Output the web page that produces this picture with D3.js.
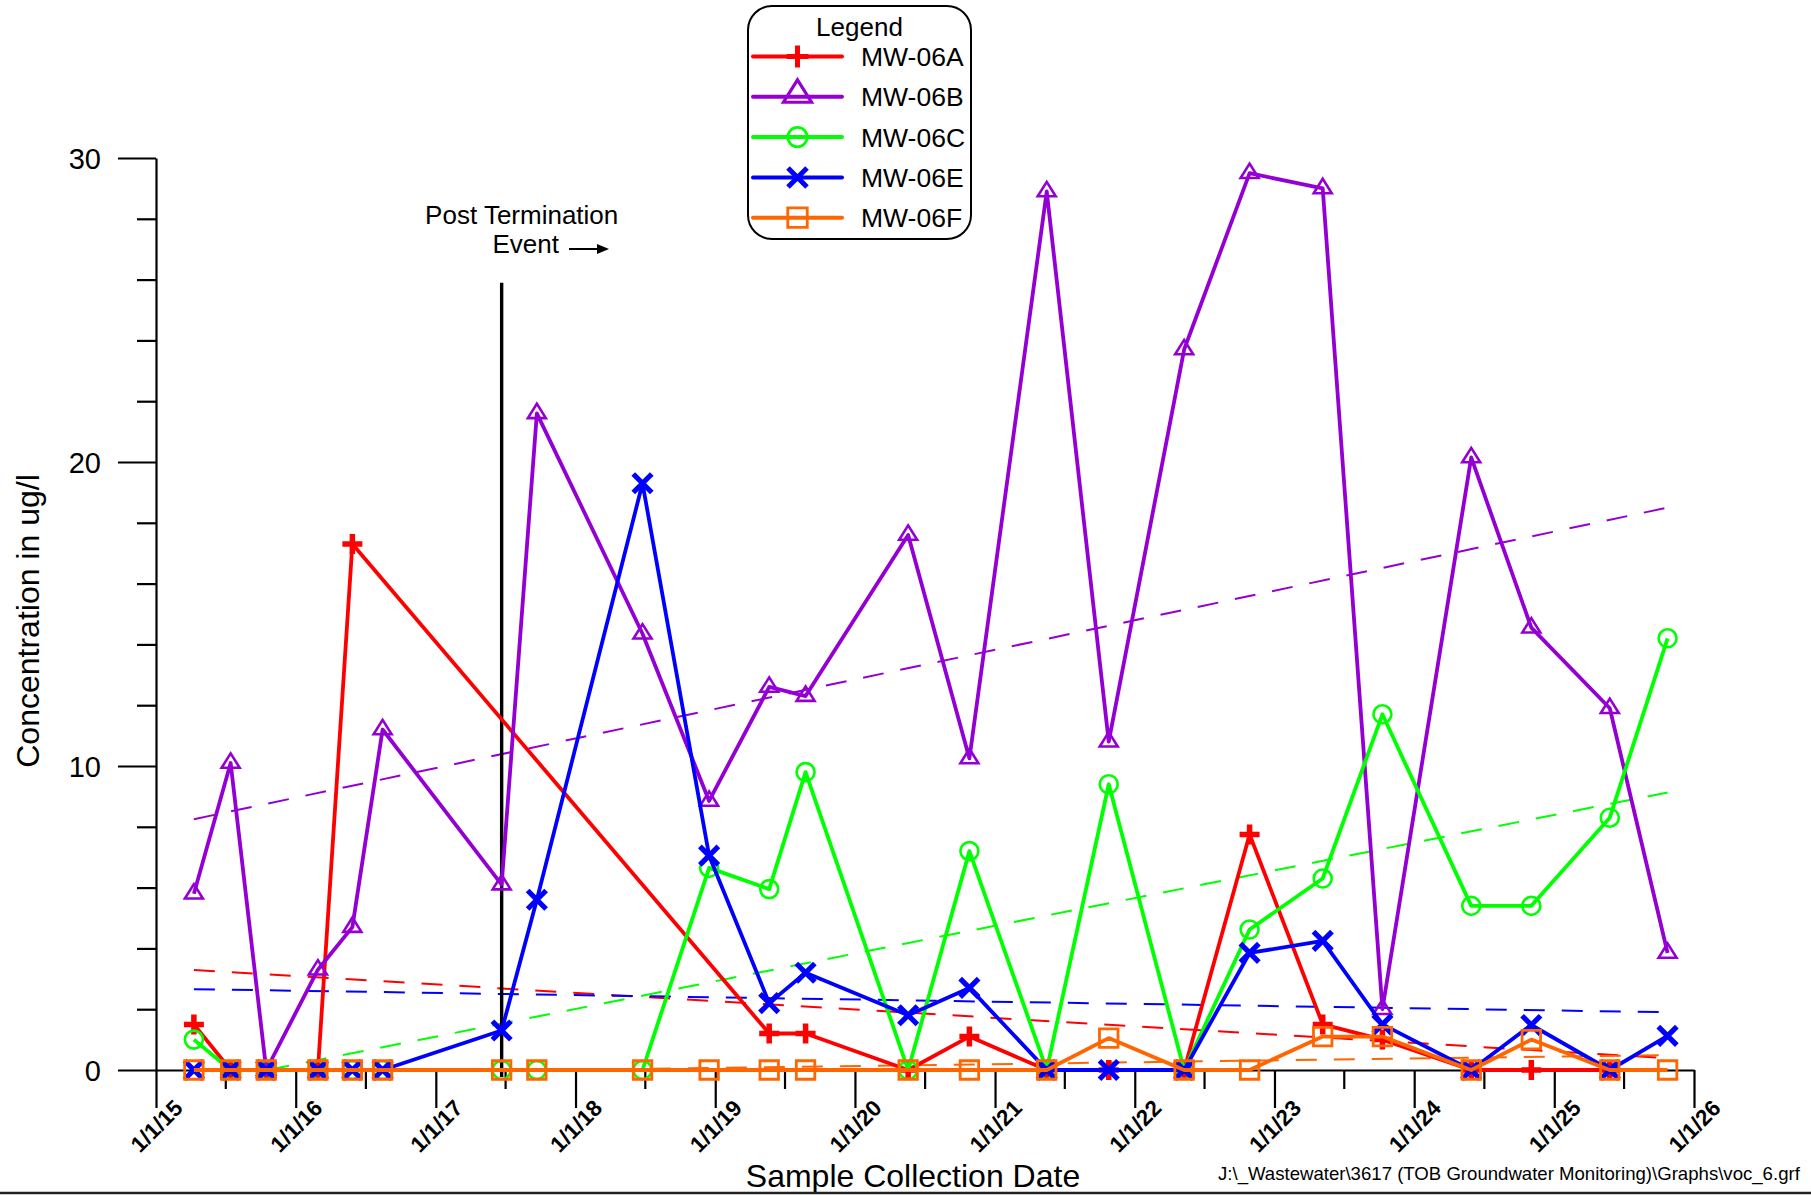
<!DOCTYPE html>
<html><head><meta charset="utf-8">
<script src="https://cdn.jsdelivr.net/npm/d3@7"></script>
<style>
body{margin:0;background:#fff}
svg{display:block;font-family:"Liberation Sans",Arial,Helvetica,sans-serif}
</style>
</head><body>
<script>
// ---------------- DATA ----------------
const sampleDates = ["2015-04-10","2015-07-15","2015-10-16","2016-02-28","2016-05-28","2016-08-15",
  "2017-06-22","2017-09-22","2018-06-25","2018-12-16","2019-05-22","2019-08-25",
  "2020-05-19","2020-10-26","2021-05-16","2021-10-25","2022-05-10","2022-10-28",
  "2023-05-07","2023-10-10","2024-05-29","2024-11-02","2025-05-26","2025-10-24"];
const mw06A = [1.5,0,0,0,17.3,null,null,null,null,null,1.2,1.2,0,1.1,0,0,0,7.75,1.5,1.0,0,0,0,null];
const mw06B = [5.8,10.1,0,3.3,4.7,11.2,6.1,21.6,14.35,8.85,12.6,12.3,17.6,10.25,28.9,10.8,23.7,29.5,29.0,2.0,20.15,14.55,11.9,3.85];
const mw06C = [1.0,0,0,0,0,0,0,0,0,6.65,5.95,9.8,0,7.2,0,9.4,0,4.62,6.3,11.7,5.4,5.4,8.3,14.2];
const mw06E = [0,0,0,0,0,0,1.3,5.6,19.3,7.05,2.2,3.2,1.8,2.7,0,0,0,3.85,4.25,1.5,0,1.48,0,1.12];
const mw06F = [0,0,0,0,0,0,0,0,0,0,0,0,0,0,0,1.05,0,0,1.1,1.1,0,1.0,0,0];

// trend lines (value at first and last sample date)
const trendA = [3.29, 0.39];
const trendB = [8.25, 18.5];
const trendC = [-0.48, 9.13];
const trendE = [2.66, 1.9];
const trendF = [-0.16, 0.49];

const seriesNames = ["MW-06A","MW-06B","MW-06C","MW-06E","MW-06F"];
const seriesColors = ["#ff0000","#9400d3","#00ff00","#0000ff","#ff6600"];
const seriesMarkers = ["plus","triangle","circle","cross","square"];

const yMajorTicks = [0,10,20,30];
const yMinorTicks = [2,4,6,8,12,14,16,18,22,24,26,28];
const xMajorTickLabels = ["1/1/15","1/1/16","1/1/17","1/1/18","1/1/19","1/1/20","1/1/21","1/1/22","1/1/23","1/1/24","1/1/25","1/1/26"];
const eventValueTop = 25.9;
const eventText = ["Post Termination","Event"];
const xTitle = "Sample Collection Date";
const yTitle = "Concentration in ug/l";
const footer = "J:\\_Wastewater\\3617 (TOB Groundwater Monitoring)\\Graphs\\voc_6.grf";

// ---------------- CHART ----------------
const W = 1811, H = 1195;
const parse = d3.timeParse("%Y-%m-%d");
const dates = sampleDates.map(parse);
const tickParse = d3.timeParse("%m/%d/%y");
const xMajor = xMajorTickLabels.map(tickParse);
const xMinor = xMajor.slice(0,-1).map(d => new Date(d.getFullYear(),6,1));

const x = d3.scaleTime().domain([xMajor[0], xMajor[xMajor.length-1]]).range([156,1694]);
const y = d3.scaleLinear().domain([0,30]).range([1070,158]);

const svg = d3.select("body").append("svg").attr("width",W).attr("height",H);
svg.append("rect").attr("width",W).attr("height",H).attr("fill","#fff");

svg.append("defs").append("clipPath").attr("id","plotclip")
  .append("rect").attr("x",156).attr("y",158).attr("width",1694-156).attr("height",1070-158);

// axes
const axisStroke = 2.2;
const gx = svg.append("g").attr("transform",`translate(0,${y(0)})`)
  .call(d3.axisBottom(x).tickValues(xMajor).tickSize(38).tickSizeOuter(0).tickFormat((d,i)=>xMajorTickLabels[i]));
gx.selectAll("text")
  .attr("x",0).attr("y",0).attr("dy","0.35em")
  .attr("text-anchor","middle")
  .attr("transform","translate(0,56) rotate(-45)")
  .attr("font-size",22.5).attr("font-weight","bold").attr("fill","#000")
  .attr("font-family",'"Liberation Sans",Arial,sans-serif');
const gxm = svg.append("g").attr("transform",`translate(0,${y(0)})`)
  .call(d3.axisBottom(x).tickValues(xMinor).tickSize(19).tickSizeOuter(0).tickFormat(""));
gxm.select(".domain").remove();

const gy = svg.append("g").attr("transform","translate(156,0)")
  .call(d3.axisLeft(y).tickValues(yMajorTicks).tickSize(38).tickSizeOuter(0).tickPadding(17));
gy.selectAll("text").attr("font-size",29).attr("fill","#000").attr("dy","0.35em")
  .attr("font-family",'"Liberation Sans",Arial,sans-serif');
const gym = svg.append("g").attr("transform","translate(156,0)")
  .call(d3.axisLeft(y).tickValues(yMinorTicks).tickSize(19).tickSizeOuter(0).tickFormat(""));
gym.select(".domain").remove();

svg.selectAll(".domain").attr("stroke","#000").attr("stroke-width",axisStroke);
svg.selectAll(".tick line").attr("stroke","#000").attr("stroke-width",axisStroke);

// titles
svg.append("text").attr("x",913).attr("y",1187).attr("text-anchor","middle")
  .attr("font-size",32).text(xTitle);
svg.append("text").attr("transform","translate(38.5,621) rotate(-90)").attr("text-anchor","middle")
  .attr("font-size",32).text(yTitle);
svg.append("text").attr("x",1218).attr("y",1180).attr("font-size",18.6).text(footer);
svg.append("line").attr("x1",0).attr("x2",W).attr("y1",1193).attr("y2",1193)
  .attr("stroke","#222").attr("stroke-width",2.5);

// trend lines
const trends = [trendA,trendB,trendC,trendE,trendF];
const trendDates = [dates[0], dates[dates.length-1]];
const gt = svg.append("g").attr("clip-path","url(#plotclip)");
trends.forEach((t,i)=>{
  gt.append("path")
    .attr("d", d3.line().x((v,j)=>x(trendDates[j])).y(v=>y(v))(t))
    .attr("fill","none").attr("stroke",seriesColors[i]).attr("stroke-width",2)
    .attr("stroke-dasharray","21 17");
});

// event line
const evX = x(dates[6]);
svg.append("line").attr("x1",evX).attr("x2",evX).attr("y1",y(eventValueTop)).attr("y2",y(0)+7)
  .attr("stroke","#000").attr("stroke-width",3.4);
svg.append("text").attr("x",521.7).attr("y",224).attr("text-anchor","middle").attr("font-size",26).text(eventText[0]);
svg.append("text").attr("x",492.5).attr("y",252.5).attr("font-size",26).text(eventText[1]);
svg.append("line").attr("x1",569).attr("x2",599).attr("y1",249).attr("y2",249).attr("stroke","#000").attr("stroke-width",2);
svg.append("path").attr("d","M597,244 L609,249 L597,254 Z").attr("fill","#000");

// markers
function markerPath(type, s){
  const h = s/2;
  switch(type){
    case "plus": return `M${-h},0H${h}M0,${-h}V${h}`;
    case "cross": return `M${-h},${-h}L${h},${h}M${-h},${h}L${h},${-h}`;
    case "square": return `M${-h},${-h}H${h}V${h}H${-h}Z`;
    case "circle": return `M${h},0A${h},${h} 0 1,1 ${-h},0A${h},${h} 0 1,1 ${h},0Z`;
    case "triangle": { const th = s*0.8; return `M0,${-th*2/3}L${h},${th/3}L${-h},${th/3}Z`; }
  }
}
const markerSize = {plus:20, cross:18.5, square:18.5, circle:18, triangle:18};
const markerStroke = {plus:5.5, cross:5.2, square:2.8, circle:2.6, triangle:2.6};
const legendSize = {plus:22, cross:19, square:19.5, circle:19.4, triangle:28};
const legendStroke = {plus:5, cross:5, square:2.8, circle:2.6, triangle:3.2};

const allSeries = [mw06A,mw06B,mw06C,mw06E,mw06F];
allSeries.forEach((vals,i)=>{
  const pts = vals.map((v,j)=>({d:dates[j],v})).filter(p=>p.v!==null);
  const g = svg.append("g");
  g.append("path").attr("d", d3.line().x(p=>x(p.d)).y(p=>y(p.v))(pts))
    .attr("fill","none").attr("stroke",seriesColors[i]).attr("stroke-width",3.8)
    .attr("stroke-linejoin","round");
  const m = seriesMarkers[i];
  g.selectAll("path.mk").data(pts).join("path").attr("class","mk")
    .attr("transform",p=>`translate(${x(p.d)},${y(p.v)})`)
    .attr("d", markerPath(m, markerSize[m]))
    .attr("fill","none").attr("stroke",seriesColors[i]).attr("stroke-width",markerStroke[m]);
});

// legend
const lg = svg.append("g");
lg.append("rect").attr("x",748).attr("y",6).attr("width",223).attr("height",233)
  .attr("rx",24).attr("ry",24).attr("fill","#fff").attr("stroke","#000").attr("stroke-width",2);
lg.append("text").attr("x",859.5).attr("y",36).attr("text-anchor","middle").attr("font-size",26).text("Legend");
seriesNames.forEach((nm,i)=>{
  const ly = 56.5 + i*40.3;
  const m = seriesMarkers[i];
  lg.append("line").attr("x1",753).attr("x2",842).attr("y1",ly).attr("y2",ly)
    .attr("stroke",seriesColors[i]).attr("stroke-width",4).attr("stroke-linecap","round");
  lg.append("path").attr("transform",`translate(797.5,${m==="triangle"?ly-2:ly})`)
    .attr("d",markerPath(m,legendSize[m])).attr("fill","none")
    .attr("stroke",seriesColors[i]).attr("stroke-width",legendStroke[m]);
  lg.append("text").attr("x",861).attr("y",ly+9.6).attr("font-size",26.5).text(nm);
});
</script>
</body></html>
